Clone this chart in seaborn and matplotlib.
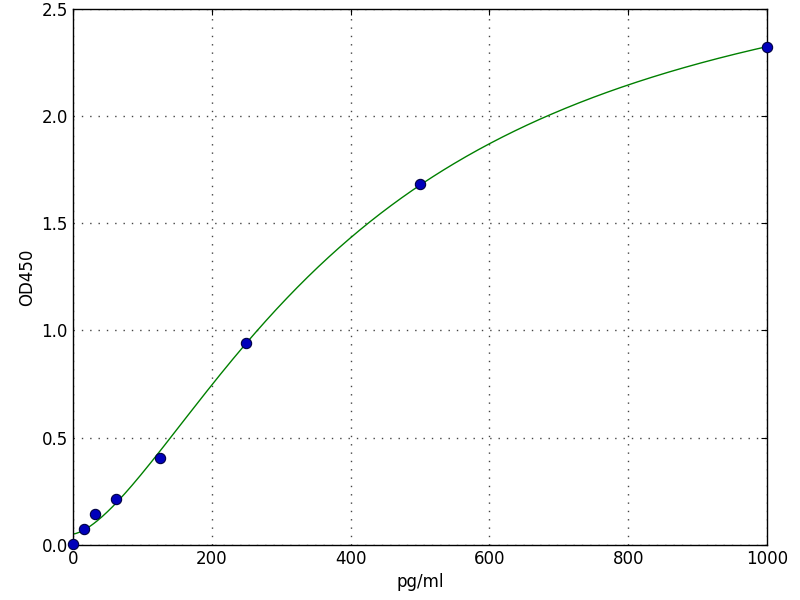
import numpy as np
import pandas as pd
import matplotlib
matplotlib.use("Agg")
import matplotlib.pyplot as plt
import seaborn as sns

# standard concentrations (pg/ml) and measured OD450
conc = [0, 15.6, 31.25, 62.5, 125, 250, 500, 1000]
od450 = [0.005, 0.075, 0.145, 0.215, 0.406, 0.942, 1.684, 2.323]


def fit_4pl(x, y):
    # grid over slope/midpoint, linear least squares for the asymptotes
    x = np.asarray(x, dtype=float)
    y = np.asarray(y, dtype=float)
    best = None
    for b in np.linspace(0.8, 3.5, 136):
        for c in np.linspace(100, 2000, 381):
            g = 1.0 / (1.0 + (x / c) ** b)
            A = np.column_stack([g, 1 - g])
            coef, *_ = np.linalg.lstsq(A, y, rcond=None)
            err = np.sum((A @ coef - y) ** 2)
            if best is None or err < best[0]:
                best = (err, coef[0], b, c, coef[1])
    return best[1:]


a, b, c, d = fit_4pl(conc, od450)
xs = np.linspace(0, 1000, 400)
curve = pd.DataFrame({"x": xs, "y": d + (a - d) / (1 + (xs / c) ** b)})
points = pd.DataFrame({"x": conc, "y": od450})

sns.set_style("white")
plt.rcParams["font.family"] = ["DejaVu Sans"]
plt.rcParams["text.color"] = "black"
plt.rcParams["axes.labelcolor"] = "black"
plt.rcParams["xtick.color"] = "black"
plt.rcParams["ytick.color"] = "black"
fig, ax = plt.subplots(figsize=(8, 6), dpi=100)

sns.lineplot(data=curve, x="x", y="y", ax=ax, color="green", linewidth=1.0)
sns.scatterplot(data=points, x="x", y="y", ax=ax, color="#0000bb", edgecolor="#000044",
                s=55, linewidth=0.8, zorder=3, clip_on=False)

ax.set_xlim(0, 1000)
ax.set_ylim(0, 2.5)
ax.set_xticks([0, 200, 400, 600, 800, 1000])
ax.set_yticks([0.0, 0.5, 1.0, 1.5, 2.0, 2.5])
ax.set_yticklabels(["0.0", "0.5", "1.0", "1.5", "2.0", "2.5"])
ax.grid(True, color="#444444", linestyle=(0, (1, 5)), linewidth=1.0)
ax.tick_params(direction="in", length=4, labelsize=12, top=True, right=True,
               colors="black")
for s in ax.spines.values():
    s.set_color("black")
    s.set_linewidth(1.0)
ax.set_xlabel("pg/ml", fontsize=12, color="black")
ax.set_ylabel("OD450", fontsize=12, color="black")

plt.subplots_adjust(left=0.091, right=0.959, bottom=0.092, top=0.985)
plt.savefig("out.png")
plt.close()
